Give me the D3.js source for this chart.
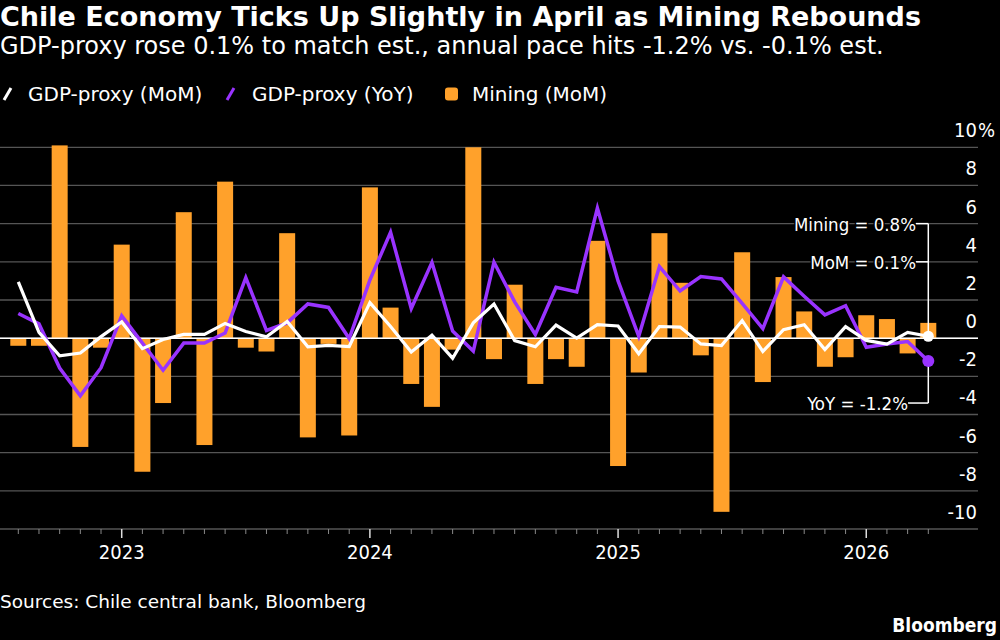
<!DOCTYPE html>
<html lang="en">
<head>
  <meta charset="UTF-8">
  <title>Chile Economy Ticks Up Slightly in April as Mining Rebounds</title>
  <script src="https://d3js.org/d3.v7.min.js"></script>
  <style>
    body {
      margin: 0;
      background-color: #000;
    }
    svg {
      display: block;
      background-color: #000;
      font-family: "DejaVu Sans Condensed", "DejaVu Sans", sans-serif;
      font-stretch: condensed;
    }
    .wide { font-family: "DejaVu Sans", sans-serif; font-stretch: normal; }
    .title { font-size: 27px; font-weight: bold; fill: #fff; }
    .subtitle { font-size: 24px; fill: #fff; }
    .legend-text { font-size: 20px; fill: #fff; }
    .tick-label { font-size: 20px; fill: #fff; }
    .note { font-size: 18.5px; fill: #fff; }
    .source { font-size: 18.5px; fill: #fff; }
    .brand { font-size: 19px; font-weight: bold; fill: #fff; }
  </style>
</head>
<body>
  <svg width="1000" height="640"></svg>
  <script>
    // Monthly data, Aug 2022 - Apr 2026
    const months = [
      "2022-08", "2022-09", "2022-10", "2022-11", "2022-12",
      "2023-01", "2023-02", "2023-03", "2023-04", "2023-05", "2023-06",
      "2023-07", "2023-08", "2023-09", "2023-10", "2023-11", "2023-12",
      "2024-01", "2024-02", "2024-03", "2024-04", "2024-05", "2024-06",
      "2024-07", "2024-08", "2024-09", "2024-10", "2024-11", "2024-12",
      "2025-01", "2025-02", "2025-03", "2025-04", "2025-05", "2025-06",
      "2025-07", "2025-08", "2025-09", "2025-10", "2025-11", "2025-12",
      "2026-01", "2026-02", "2026-03", "2026-04"
    ];

    // GDP-proxy month-on-month, %
    const gdpMoM = [
      2.95, 0.3, -0.93, -0.78, 0.08,
      0.85, -0.55, -0.07, 0.2, 0.2, 0.77, 0.35, 0.07, 0.87, -0.45, -0.38, -0.44,
      1.86, 0.61, -0.72, 0.15, -1.05, 0.8, 1.79, -0.13, -0.45, 0.68, 0.0, 0.71,
      0.64, -0.82, 0.61, 0.58, -0.3, -0.39, 0.92, -0.7, 0.44, 0.7, -0.6, 0.6,
      -0.12, -0.31, 0.3, 0.1
    ];

    // GDP-proxy year-on-year, %
    const gdpYoY = [
      1.29, 0.75, -1.57, -3.02, -1.55,
      1.17, -0.26, -1.68, -0.26, -0.26, 0.27, 3.17, 0.4, 0.8, 1.79, 1.61, -0.02,
      3.05, 5.55, 1.55, 3.97, 0.37, -0.68, 3.98, 1.9, 0.19, 2.66, 2.42, 6.81,
      3.0, 0.1, 3.75, 2.47, 3.23, 3.1, 1.82, 0.5, 3.21, 2.2, 1.22, 1.7,
      -0.48, -0.31, -0.18, -1.2
    ];

    // Mining month-on-month, %
    const miningMoM = [
      -0.4, -0.4, 10.1, -5.7, -0.5,
      4.9, -7.0, -3.4, 6.6, -5.6, 8.2, -0.5, -0.7, 5.5, -5.2, -0.3, -5.1,
      7.9, 1.6, -2.4, -3.6, -0.6, 10.0, -1.1, 2.8, -2.4, -1.1, -1.5, 5.1,
      -6.7, -1.8, 5.5, 2.9, -0.9, -9.1, 4.5, -2.3, 3.2, 1.4, -1.5, -1.0,
      1.2, 1.0, -0.8, 0.8
    ];

    const yTicks = [-10, -8, -6, -4, -2, 0, 2, 4, 6, 8, 10];

    const colors = { mom: "#ffffff", yoy: "#9933ff", mining: "#ffa12b" };

    const svg = d3.select("svg");

    const plotLeft = 0, plotRight = 978;
    const x = d3.scaleLinear()
      .domain([0, months.length - 1])
      .range([18.3, 928.3]);
    const y = d3.scaleLinear()
      .domain([-10, 10])
      .range([529, 147.3]);

    // Title, subtitle
    svg.append("text").attr("class", "title wide")
      .attr("x", 0).attr("y", 26)
      .text("Chile Economy Ticks Up Slightly in April as Mining Rebounds");
    svg.append("text").attr("class", "subtitle wide")
      .attr("x", 0).attr("y", 54)
      .text("GDP-proxy rose 0.1% to match est., annual pace hits -1.2% vs. -0.1% est.");

    // Legend
    const legend = svg.append("g").attr("transform", "translate(0,94)");
    legend.append("line")
      .attr("x1", 4).attr("y1", 6).attr("x2", 11).attr("y2", -6)
      .attr("stroke", colors.mom).attr("stroke-width", 3);
    legend.append("text").attr("class", "legend-text wide")
      .attr("x", 28).attr("y", 7).text("GDP-proxy (MoM)");
    legend.append("line")
      .attr("x1", 227).attr("y1", 6).attr("x2", 234).attr("y2", -6)
      .attr("stroke", colors.yoy).attr("stroke-width", 3);
    legend.append("text").attr("class", "legend-text wide")
      .attr("x", 252).attr("y", 7).text("GDP-proxy (YoY)");
    legend.append("rect")
      .attr("x", 445).attr("y", -6.5).attr("width", 13).attr("height", 13)
      .attr("rx", 3).attr("fill", colors.mining);
    legend.append("text").attr("class", "legend-text wide")
      .attr("x", 472).attr("y", 7).text("Mining (MoM)");

    // Gridlines and y labels
    svg.append("g").selectAll("line")
      .data(yTicks)
      .join("line")
      .attr("x1", plotLeft).attr("x2", plotRight)
      .attr("y1", d => y(d)).attr("y2", d => y(d))
      .attr("stroke", "#555").attr("stroke-width", 1.3);

    svg.append("g").selectAll("text")
      .data(yTicks)
      .join("text")
      .attr("class", "tick-label")
      .attr("x", 977)
      .attr("y", d => y(d) - 10)
      .attr("text-anchor", "end")
      .text(d => d);
    svg.append("text").attr("class", "tick-label")
      .attr("x", 978).attr("y", y(10) - 10)
      .text("%");

    // Bars
    const barW = 16;
    svg.append("g").selectAll("rect")
      .data(miningMoM)
      .join("rect")
      .attr("x", (d, i) => x(i) - barW / 2)
      .attr("width", barW)
      .attr("y", d => y(Math.max(0, d)))
      .attr("height", d => Math.abs(y(d) - y(0)))
      .attr("fill", colors.mining);

    // Zero line
    svg.append("line")
      .attr("x1", plotLeft).attr("x2", plotRight)
      .attr("y1", y(0)).attr("y2", y(0))
      .attr("stroke", "#fff").attr("stroke-width", 1.5);

    // X axis ticks
    const xAxis = svg.append("g").attr("transform", `translate(0,${y(-10)})`);
    xAxis.selectAll("line")
      .data(months)
      .join("line")
      .attr("x1", (d, i) => x(i)).attr("x2", (d, i) => x(i))
      .attr("y1", 0)
      .attr("y2", d => d.endsWith("-01") ? 9 : 5)
      .attr("stroke", d => d.endsWith("-01") ? "#ddd" : "#888")
      .attr("stroke-width", d => d.endsWith("-01") ? 1.5 : 1);
    xAxis.selectAll("text")
      .data(months.map((d, i) => ({ d, i })).filter(o => o.d.endsWith("-01")))
      .join("text")
      .attr("class", "tick-label")
      .attr("x", o => x(o.i))
      .attr("y", 30)
      .attr("text-anchor", "middle")
      .text(o => o.d.slice(0, 4));

    // Lines
    const line = d3.line()
      .x((d, i) => x(i))
      .y(d => y(d));

    svg.append("path")
      .datum(gdpYoY)
      .attr("d", line)
      .attr("fill", "none")
      .attr("stroke", colors.yoy)
      .attr("stroke-width", 3.5)
      .attr("stroke-linejoin", "miter");

    svg.append("path")
      .datum(gdpMoM)
      .attr("d", line)
      .attr("fill", "none")
      .attr("stroke", colors.mom)
      .attr("stroke-width", 3.2)
      .attr("stroke-linejoin", "miter");

    // Annotations for latest values
    const last = months.length - 1;
    const lx = x(last);
    const ann = svg.append("g");
    const noteMining = y(6), noteMoM = y(4), noteYoY = y(-3.4);

    ann.append("line")
      .attr("x1", lx).attr("x2", lx)
      .attr("y1", noteMining).attr("y2", y(gdpMoM[last]))
      .attr("stroke", "#fff").attr("stroke-width", 1.5);
    ann.append("line")
      .attr("x1", lx).attr("x2", lx)
      .attr("y1", y(gdpYoY[last])).attr("y2", noteYoY)
      .attr("stroke", "#fff").attr("stroke-width", 1.5);

    const notes = [
      { label: "Mining = 0.8%", yy: noteMining, end: 916 },
      { label: "MoM = 0.1%", yy: noteMoM, end: 916 },
      { label: "YoY = -1.2%", yy: noteYoY, end: 908 }
    ];
    ann.selectAll("line.h")
      .data(notes)
      .join("line")
      .attr("class", "h")
      .attr("x1", d => d.end).attr("x2", lx)
      .attr("y1", d => d.yy).attr("y2", d => d.yy)
      .attr("stroke", "#fff").attr("stroke-width", 1.5);
    ann.selectAll("text")
      .data(notes)
      .join("text")
      .attr("class", "note")
      .attr("x", d => d.end)
      .attr("y", d => d.yy + 7)
      .attr("text-anchor", "end")
      .attr("stroke", "#000").attr("stroke-width", 3)
      .attr("paint-order", "stroke")
      .text(d => d.label);

    ann.append("circle")
      .attr("cx", lx).attr("cy", y(gdpMoM[last])).attr("r", 5.5)
      .attr("fill", colors.mom);
    ann.append("circle")
      .attr("cx", lx).attr("cy", y(gdpYoY[last])).attr("r", 6)
      .attr("fill", colors.yoy);

    // Footer
    svg.append("text").attr("class", "source wide")
      .attr("x", 0).attr("y", 608)
      .text("Sources: Chile central bank, Bloomberg");
    svg.append("text").attr("class", "brand")
      .attr("x", 997).attr("y", 632)
      .attr("text-anchor", "end")
      .text("Bloomberg");
  </script>
</body>
</html>
